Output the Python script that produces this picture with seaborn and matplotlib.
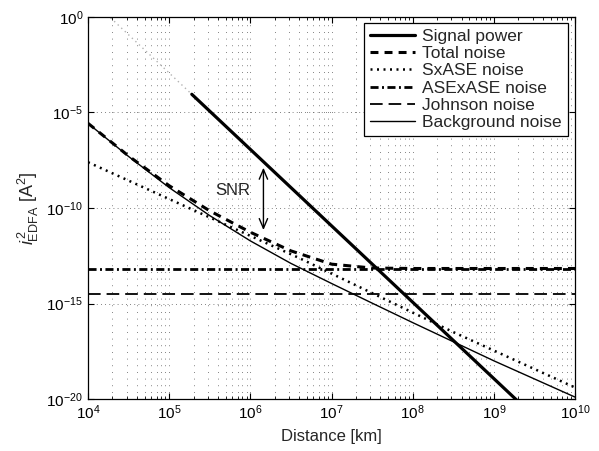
import matplotlib
matplotlib.use('Agg')
import matplotlib.pyplot as plt
import matplotlib.ticker as mticker
import seaborn as sns
import pandas as pd

# values (log-log axes)
signal_x = [1.9e5, 1.9e9]
signal_y = [9.0e-5, 9.0e-21]
signal_ext_x = [1.9e4, 1.9e5]
signal_ext_y = [0.9, 9.0e-5]

noise_x = [1e4, 3.16e4, 1e5, 3.16e5, 1e6, 3.16e6, 1e7, 3.16e7, 1e8, 1e9, 1e10]
total_noise = [2.72e-6, 5.3e-8, 1.47e-9, 7.1e-11, 5.4e-12, 5.7e-13, 1.15e-13, 7.2e-14, 6.8e-14, 6.8e-14, 6.8e-14]

sxase_x = [1e4, 4e6, 3.16e8, 1e10]
sxase = [2.5e-8, 2.4e-13, 3.2e-17, 4.0e-20]

flat_x = [1e4, 1e10]
asease = [6.5e-14, 6.5e-14]
johnson = [3.0e-15, 3.0e-15]

bg_x = [1e4, 3.16e4, 1e5, 3.16e5, 1e6, 3.16e6, 1e7, 3.16e7, 1e8, 3.16e8, 1e9, 1e10]
background = [2.7e-6, 5.0e-8, 1.17e-9, 4.0e-11, 1.9e-12, 1.26e-13, 1.12e-14, 1.05e-15, 1.0e-16, 1.0e-17, 1.0e-18, 1.26e-20]

x_ticks = [1e4, 1e5, 1e6, 1e7, 1e8, 1e9, 1e10]
y_ticks = [1e-20, 1e-15, 1e-10, 1e-5, 1e0]

snr_x = 1.45e6
snr_top, snr_bottom = 1.8e-8, 5.0e-12

sns.set_style('ticks')
plt.rcParams['font.family'] = ['Liberation Sans', 'DejaVu Sans']
plt.rcParams['mathtext.fontset'] = 'custom'
plt.rcParams['mathtext.rm'] = 'Liberation Sans'
plt.rcParams['mathtext.it'] = 'Liberation Sans:italic'
plt.rcParams['mathtext.default'] = 'regular'

fig = plt.figure(figsize=(5.99, 4.51), dpi=100)
ax = fig.add_axes([88 / 599, 52 / 451, 487 / 599, 382 / 451])
ax.set_xscale('log')
ax.set_yscale('log')

def df(x, y):
    return pd.DataFrame({'x': x, 'y': y})

sns.lineplot(data=df(signal_ext_x, signal_ext_y), x='x', y='y', ax=ax, color='0.7',
             lw=1.0, linestyle=(0, (1, 2.5)), label='_nolegend_')
sns.lineplot(data=df(signal_x, signal_y), x='x', y='y', ax=ax, color='k', lw=2.3,
             label='Signal power')
sns.lineplot(data=df(noise_x, total_noise), x='x', y='y', ax=ax, color='k', lw=2.2,
             linestyle=(0, (2.6, 2.0)), label='Total noise')
sns.lineplot(data=df(sxase_x, sxase), x='x', y='y', ax=ax, color='k', lw=1.8,
             linestyle=(0, (0.8, 1.8)), label='SxASE noise')
sns.lineplot(data=df(flat_x, asease), x='x', y='y', ax=ax, color='k', lw=2.0,
             linestyle=(0, (2.9, 1.25, 0.7, 1.25)), label='ASExASE noise')
sns.lineplot(data=df(flat_x, johnson), x='x', y='y', ax=ax, color='k', lw=1.3,
             linestyle=(0, (7.0, 3.3)), label='Johnson noise')
sns.lineplot(data=df(bg_x, background), x='x', y='y', ax=ax, color='k', lw=1.0,
             label='Background noise')

ax.set_xlim(1e4, 1e10)
ax.set_ylim(1e-20, 1e0)
ax.xaxis.set_major_locator(mticker.FixedLocator(x_ticks))
ax.xaxis.set_major_formatter(mticker.LogFormatterSciNotation())
ax.xaxis.set_minor_locator(mticker.FixedLocator(
    [m * t for t in x_ticks[:-1] for m in range(2, 10)]))
ax.xaxis.set_minor_formatter(mticker.NullFormatter())
ax.yaxis.set_major_locator(mticker.FixedLocator(y_ticks))
ax.yaxis.set_major_formatter(mticker.LogFormatterSciNotation())
ax.yaxis.set_minor_locator(mticker.NullLocator())

ax.grid(True, which='both', axis='x', color='0.35', lw=0.6, linestyle=(0, (1, 7)))
ax.grid(True, which='major', axis='y', color='0.35', lw=0.6, linestyle=(0, (1, 4)))
ax.tick_params(which='both', direction='in', top=True, right=True, labelsize=11, colors='k')
ax.tick_params(which='major', length=4, width=0.8)
ax.tick_params(which='minor', length=2, width=0.6)
for s in ax.spines.values():
    s.set_linewidth(0.9)
    s.set_color('k')

ax.set_xlabel('Distance [km]', fontsize=12, labelpad=5)
ax.set_ylabel(r'$\mathit{i}^{\,2}_{EDFA}$ [A$^2$]', fontsize=13, labelpad=4)

ax.annotate('', xy=(snr_x, snr_top), xytext=(snr_x, snr_bottom),
            arrowprops=dict(arrowstyle='<->,head_length=0.7,head_width=0.3', lw=1.0, color='k'))
ax.text(6.1e5, 8.7e-10, 'SNR', ha='center', va='center', fontsize=12)

leg = ax.legend(loc='upper right', bbox_to_anchor=(0.985, 0.985), borderaxespad=0,
                fontsize=12.5, frameon=True, fancybox=False, edgecolor='k',
                handlelength=2.6, labelspacing=0.12, handletextpad=0.4, borderpad=0.35)
leg.get_frame().set_linewidth(0.9)
leg.get_frame().set_alpha(1)

fig.savefig('out.png', dpi=100)
